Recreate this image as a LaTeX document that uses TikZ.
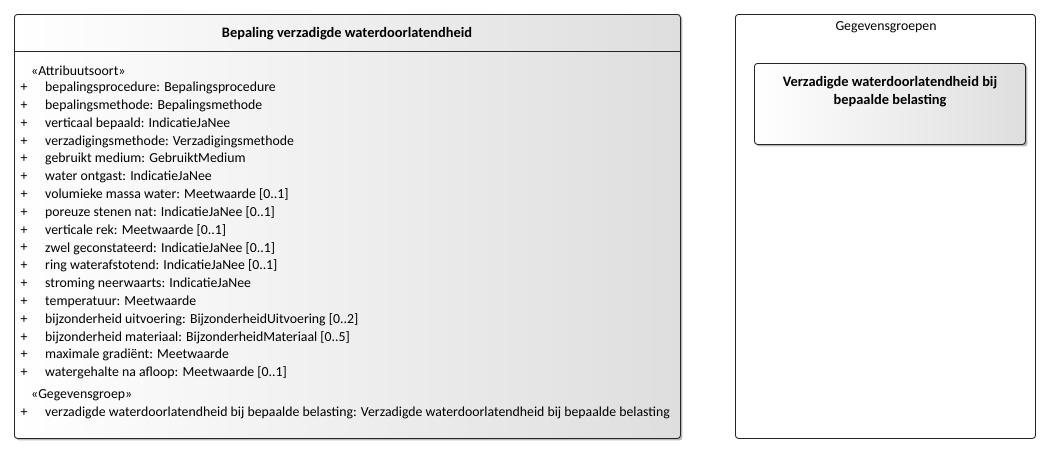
\documentclass[tikz,border=0pt]{standalone}
\usepackage{fontspec}
\setmainfont{Carlito}
\usetikzlibrary{shadows}
\definecolor{shadegray}{RGB}{222,222,222}
\tikzset{
  umlbox/.style={draw=black!85, line width=0.9pt, rounded corners=3pt, left color=white, right color=shadegray,
    drop shadow={shadow xshift=2pt, shadow yshift=-2pt, fill=black!45, opacity=0.6}},
  plainbox/.style={draw=black!85, line width=0.9pt, rounded corners=3pt, fill=white},
  attr/.style={anchor=west, inner sep=0pt, font=\fontsize{13.8}{16}\selectfont},
  plus/.style={anchor=center, inner sep=0pt, font=\fontsize{13.8}{16}\selectfont},
  ttl/.style={anchor=center, inner sep=0pt, font=\fontsize{14.4}{18}\selectfont\bfseries, align=center},
}
\begin{document}
\begin{tikzpicture}[x=1pt,y=-1pt]
\useasboundingbox (0,0) rectangle (1051,453);
% main class box
\node[umlbox, minimum width=666pt, minimum height=424pt, anchor=north west, inner sep=0pt] (main) at (14,14) {};
\coordinate (sepL) at (14,51);
\coordinate (sepR) at (680,51);
\draw[black!85, line width=0.9pt] (sepL) -- (sepR);
\node[ttl] (title) at (347,34) {Bepaling verzadigde waterdoorlatendheid};
\node[attr] (st1) at (31,71) {«Attribuutsoort»};
\foreach \i/\t in {0/{bepalingsprocedure: Bepalingsprocedure},
  1/{bepalingsmethode: Bepalingsmethode},
  2/{verticaal bepaald: IndicatieJaNee},
  3/{verzadigingsmethode: Verzadigingsmethode},
  4/{gebruikt medium: GebruiktMedium},
  5/{water ontgast: IndicatieJaNee},
  6/{volumieke massa water: Meetwaarde [0..1]},
  7/{poreuze stenen nat: IndicatieJaNee [0..1]},
  8/{verticale rek: Meetwaarde [0..1]},
  9/{zwel geconstateerd: IndicatieJaNee [0..1]},
  10/{ring waterafstotend: IndicatieJaNee [0..1]},
  11/{stroming neerwaarts: IndicatieJaNee},
  12/{temperatuur: Meetwaarde},
  13/{bijzonderheid uitvoering: BijzonderheidUitvoering [0..2]},
  14/{bijzonderheid materiaal: BijzonderheidMateriaal [0..5]},
  15/{maximale gradiënt: Meetwaarde},
  16/{watergehalte na afloop: Meetwaarde [0..1]}}{
  \node[plus] (p\i) at (24,88+17.8*\i) {+};
  \node[attr] (a\i) at (45,88+17.8*\i) {\t};
}
\node[attr] (st2) at (31,395) {«Gegevensgroep»};
\node[plus] (pg) at (24,413) {+};
\node[attr] (ag) at (45,413) {verzadigde waterdoorlatendheid bij bepaalde belasting: Verzadigde waterdoorlatendheid bij bepaalde belasting};
% right package box
\node[plainbox, minimum width=300pt, minimum height=424pt, anchor=north west, inner sep=0pt] (grp) at (735,14) {};
\node[attr, anchor=center] (grptitle) at (886,27) {Gegevensgroepen};
\node[umlbox, minimum width=271pt, minimum height=81pt, anchor=north west, inner sep=0pt] (inner) at (754,63) {};
\node[ttl] (innert) at (890,92) {Verzadigde waterdoorlatendheid bij\\bepaalde belasting};
\end{tikzpicture}
\end{document}
